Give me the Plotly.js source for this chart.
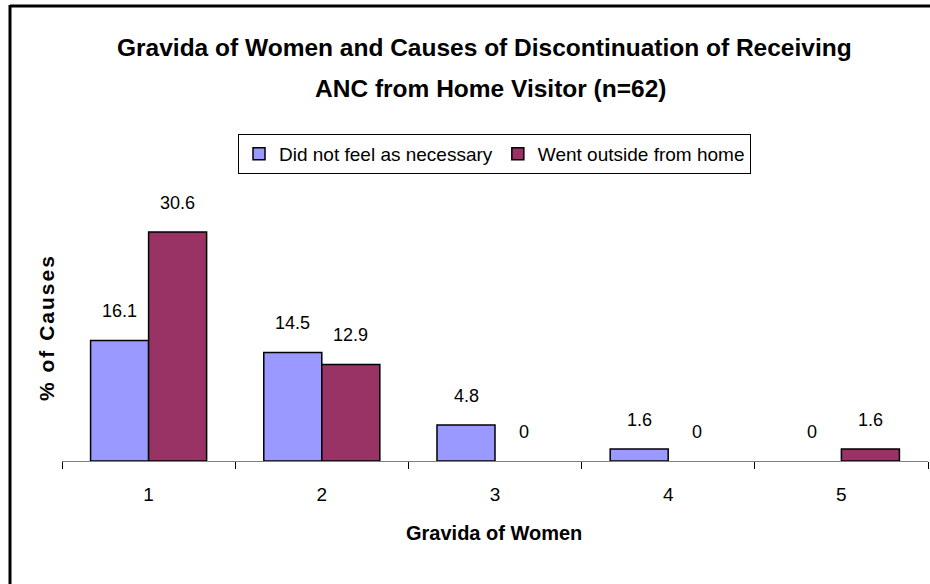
<!DOCTYPE html>
<html>
<head>
<meta charset="utf-8">
<script src="https://cdn.plot.ly/plotly-3.0.1.min.js"></script>
<style>
html,body{margin:0;padding:0;background:#fff;}
#chart{width:930px;height:584px;}
#chart .annotation[data-index="12"] text{letter-spacing:2px;}
</style>
</head>
<body>
<div id="chart"></div>
<script>
const categories = ['1', '2', '3', '4', '5'];
const notNecessary = [16.1, 14.5, 4.8, 1.6, 0];
const wentOutside = [30.6, 12.9, 0, 0, 1.6];
const seriesNames = ['Did not feel as necessary', 'Went outside from home'];
const titleLines = ['Gravida of Women and Causes of Discontinuation of Receiving', 'ANC from Home Visitor (n=62)'];
const xTitle = 'Gravida of Women';
const yTitle = '% of Causes';

const FONT = 'Liberation Sans, Arial, sans-serif';
const W = 930, H = 584;
const mL = 62, mR = 2, mT = 190, mB = 123;
const pw = W - mL - mR, ph = H - mT - mB;
const px = X => (X - mL) / pw;
const py = Y => (H - mB - Y) / ph;

const outline = vals => vals.map(v => (v === 0 ? 0 : 1.5));

const traces = [
  {type: 'bar', name: seriesNames[0], x: categories, y: notNecessary,
   marker: {color: '#9999FF', line: {color: '#000', width: outline(notNecessary)}}, hoverinfo: 'x+y'},
  {type: 'bar', name: seriesNames[1], x: categories, y: wentOutside,
   marker: {color: '#993366', line: {color: '#000', width: outline(wentOutside)}}, hoverinfo: 'x+y'}
];

const annotations = [];
const offsets = [-29, 29];
[notNecessary, wentOutside].forEach((arr, si) => {
  arr.forEach((v, i) => {
    annotations.push({x: i, y: v, xref: 'x', yref: 'y', text: String(v),
      showarrow: false, xshift: offsets[si], yshift: 29, xanchor: 'center', yanchor: 'middle',
      font: {family: FONT, size: 18, color: '#000'}});
  });
});
annotations.push({x: px(484), y: py(47), xref: 'paper', yref: 'paper', text: '<b>' + titleLines[0] + '</b>',
  showarrow: false, xanchor: 'center', yanchor: 'middle', font: {family: FONT, size: 24.5, color: '#000'}});
annotations.push({x: px(490), y: py(88), xref: 'paper', yref: 'paper', text: '<b>' + titleLines[1] + '</b>',
  showarrow: false, xanchor: 'center', yanchor: 'middle', font: {family: FONT, size: 24.5, color: '#000'}});
annotations.push({x: px(46), y: py(328), xref: 'paper', yref: 'paper', text: '<b>' + yTitle + '</b>',
  showarrow: false, textangle: -90, xanchor: 'center', yanchor: 'middle', font: {family: FONT, size: 21, color: '#000'}});
annotations.push({x: px(494), y: py(533), xref: 'paper', yref: 'paper', text: '<b>' + xTitle + '</b>',
  showarrow: false, xanchor: 'center', yanchor: 'middle', font: {family: FONT, size: 20, color: '#000'}});

const shapes = [
  {type: 'line', xref: 'paper', yref: 'paper', x0: px(10), x1: px(932), y0: py(6), y1: py(6), line: {color: '#000', width: 3}},
  {type: 'line', xref: 'paper', yref: 'paper', x0: px(10), x1: px(10), y0: py(5), y1: py(590), line: {color: '#000', width: 3}}
];

const layout = {
  width: W, height: H,
  margin: {l: mL, r: mR, t: mT, b: mB},
  paper_bgcolor: '#fff', plot_bgcolor: '#fff',
  barmode: 'group', bargap: 0.33, bargroupgap: 0,
  font: {family: FONT, size: 19, color: '#000'},
  showlegend: true,
  legend: {orientation: 'h', x: px(494.5), y: py(154), xanchor: 'center', yanchor: 'middle',
    bordercolor: '#000', borderwidth: 1, bgcolor: '#fff', font: {family: FONT, size: 19, color: '#000'},
    traceorder: 'normal', itemwidth: 30},
  xaxis: {type: 'category', range: [-0.5, 4.5], showline: true, linecolor: '#808080', linewidth: 1,
    ticks: 'outside', tickson: 'boundaries', ticklen: 7, tickcolor: '#000', tickwidth: 1,
    ticklabelstandoff: 16, showgrid: false, zeroline: false, tickfont: {family: FONT, size: 19}},
  yaxis: {range: [0, 36.2], showline: false, showticklabels: false, ticks: '', showgrid: false, zeroline: false},
  annotations: annotations,
  shapes: shapes
};

Plotly.newPlot('chart', traces, layout, {displayModeBar: false, staticPlot: true});
</script>
</body>
</html>
